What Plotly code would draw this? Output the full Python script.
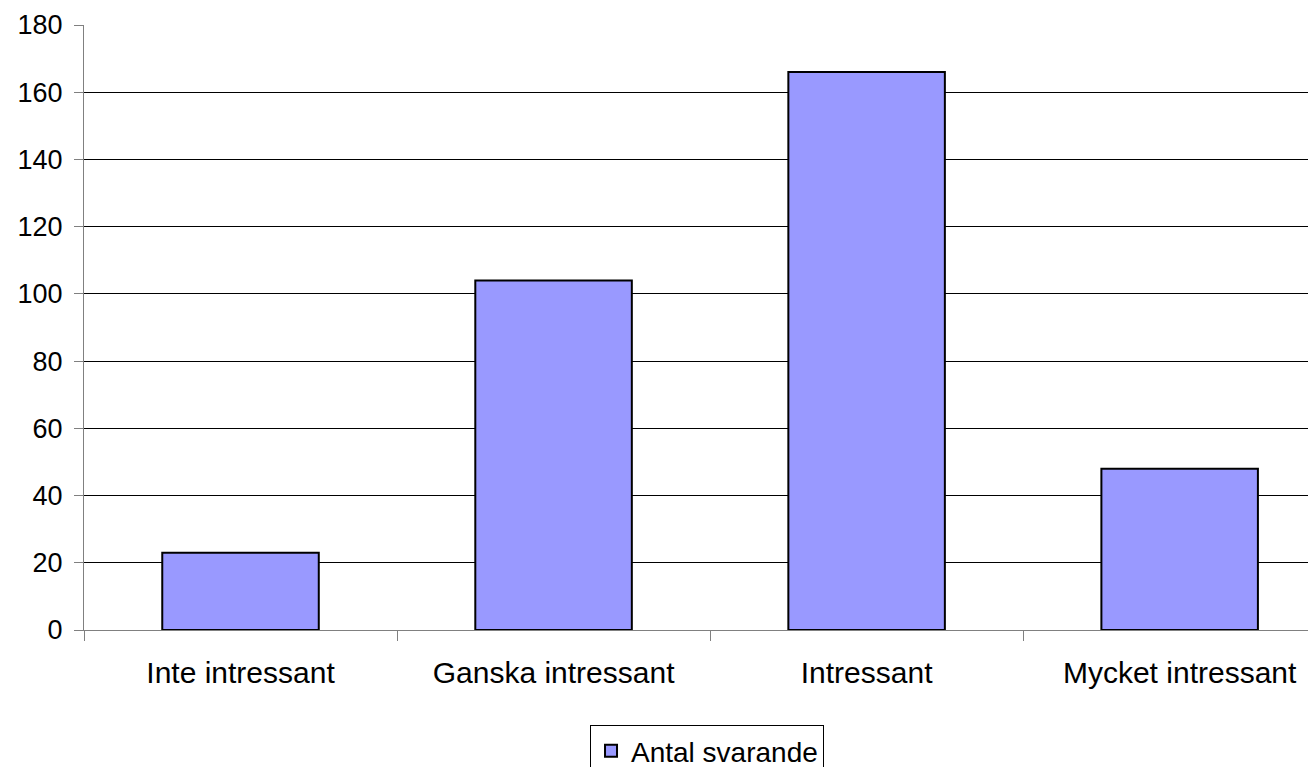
import plotly.graph_objects as go

# data
categories = ["Inte intressant", "Ganska intressant", "Intressant", "Mycket intressant"]
antal_svarande = [23, 104, 166, 48]
series_name = "Antal svarande"

fig = go.Figure()
fig.add_trace(go.Bar(
    x=categories,
    y=antal_svarande,
    name=series_name,
    showlegend=True,
    marker=dict(color="#9999FF", line=dict(color="black", width=2)),
))

# page has an 8px body margin, so the figure is sized to fit inside it
fig.update_layout(
    width=1300,
    height=759,
    margin=dict(l=76, r=0, t=17, b=137),
    paper_bgcolor="white",
    plot_bgcolor="white",
    bargap=0.5,
    font=dict(family="Liberation Sans, Arial", size=27, color="black"),
    showlegend=True,
    legend=dict(
        orientation="h",
        x=0.509, xanchor="center",
        yref="container", y=0.0553, yanchor="top",
        bordercolor="black", borderwidth=1,
        font=dict(size=28),
    ),
)

fig.update_xaxes(
    type="category",
    range=[-0.5, 3.41],
    tickson="boundaries",
    ticks="outside", ticklen=10, tickcolor="#808080",
    showline=True, linecolor="#808080", linewidth=1,
    showgrid=False,
    tickfont=dict(size=30),
    ticklabelstandoff=16,
    automargin=False,
)
fig.update_yaxes(
    range=[0, 180],
    dtick=20,
    showgrid=True, gridcolor="black", gridwidth=1,
    zeroline=False,
    showline=True, linecolor="#808080", linewidth=1,
    ticks="outside", ticklen=9, tickcolor="#808080",
    ticklabelstandoff=6,
    automargin=False,
)

fig.write_html("out.html")
